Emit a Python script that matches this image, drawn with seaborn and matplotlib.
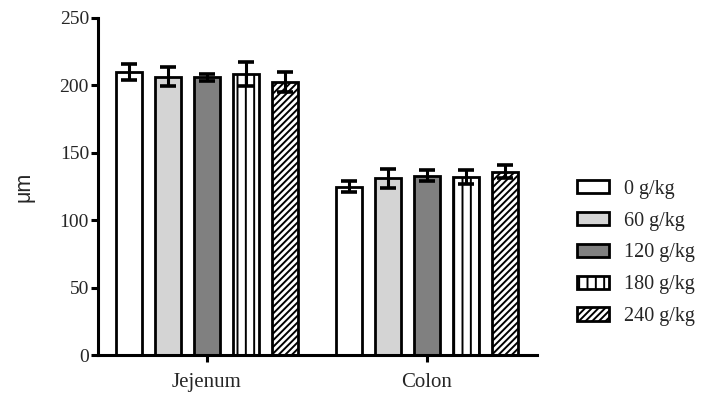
import matplotlib
matplotlib.use("Agg")
import matplotlib.pyplot as plt
from matplotlib.patches import Patch
import seaborn as sns
import pandas as pd
import numpy as np

sites = ["Jejenum", "Colon"]
doses = ["0 g/kg", "60 g/kg", "120 g/kg", "180 g/kg", "240 g/kg"]
jejenum_mean = [210, 206.5, 206, 208.5, 202.5]
jejenum_err = [6, 7, 2.5, 9, 7.5]
colon_mean = [125, 131, 133, 132, 136]
colon_err = [4, 7, 4, 5, 5]
colors = ["#ffffff", "#d4d4d4", "#808080", "#ffffff", "#ffffff"]
hatches = ["", "", "", "||", "/////"]

rows = []
for i, d in enumerate(doses):
    rows.append({"site": "Jejenum", "dose": d, "val": jejenum_mean[i], "err": jejenum_err[i]})
    rows.append({"site": "Colon", "dose": d, "val": colon_mean[i], "err": colon_err[i]})
df = pd.DataFrame(rows)

sns.set_style("ticks")
plt.rcParams["hatch.linewidth"] = 1.4
plt.rcParams["font.family"] = ["Liberation Serif", "DejaVu Serif"]

fig = plt.figure(figsize=(7.05, 4.05), dpi=100)
ax = fig.add_axes([98/705, 50/405, (537-98)/705, (355-18)/405])

sns.barplot(data=df, x="site", y="val", hue="dose", order=sites, hue_order=doses,
            palette=colors, width=0.886, gap=0.33, errorbar=None,
            edgecolor="black", linewidth=2, legend=False, ax=ax)

bar_containers = list(ax.containers)
for j, cont in enumerate(bar_containers):
    errs = [jejenum_err[j], colon_err[j]]
    means = [jejenum_mean[j], colon_mean[j]]
    xs = []
    for bar in cont:
        bar.set_hatch(hatches[j])
        bar.set_edgecolor("black")
        xs.append(bar.get_x() + bar.get_width() / 2)
    ax.errorbar(xs, means, yerr=errs, fmt="none", ecolor="black",
                elinewidth=2.2, capsize=5.5, capthick=2.6, zorder=5)

ax.set_ylim(0, 250)
ax.set_xlim(-0.495, 1.5)
ax.set_yticks([0, 50, 100, 150, 200, 250])
ax.set_xlabel("")
ax.set_ylabel("μm", family=["Liberation Sans", "DejaVu Sans"], fontsize=15.5, labelpad=18)
ax.tick_params(axis="both", width=2.2, length=5, color="black")
ax.tick_params(axis="y", labelsize=14, pad=1.5)
ax.tick_params(axis="x", labelsize=15, pad=8)
sns.despine(ax=ax)
for s in ["left", "bottom"]:
    ax.spines[s].set_linewidth(2.2)
    ax.spines[s].set_color("black")

handles = [Patch(facecolor=colors[i], edgecolor="black", hatch=hatches[i], linewidth=2,
                 label=doses[i]) for i in range(len(doses))]
fig.legend(handles=handles, loc="center left", bbox_to_anchor=(577/705, 1-253/405),
           frameon=False, fontsize=14.5, handlelength=1.6, handleheight=0.65,
           handletextpad=0.75, labelspacing=0.64, borderpad=0, borderaxespad=0)

fig.savefig("out.png", dpi=100)
